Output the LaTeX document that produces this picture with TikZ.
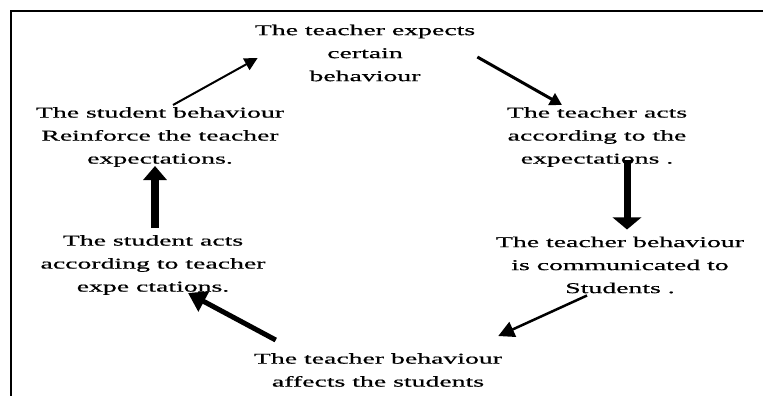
\documentclass[tikz,border=0pt]{standalone}
\usepackage{fontspec}
\setmainfont{Liberation Serif}[FakeStretch=1.85, FakeBold=0.6]
\usetikzlibrary{arrows.meta}

\tikzset{
	box/.style={align=center, inner sep=2pt, font=\fontsize{15}{23}\selectfont},
}

\begin{document}
\begin{tikzpicture}[x=1pt, y=-1pt]
	
	\useasboundingbox (0,0) rectangle (763,396);
	\draw[line width=1.3pt] (763,11) -- (11,11) -- (11,396);
	
	\node[box] (T) at (365,53) {The teacher expects\\certain\\behaviour};
	\node[box] (RA) at (597,137) {The teacher acts\\according to the\\expectations .};
	\node[box] (RB) at (620,265) {The teacher behaviour\\is communicated to\\Students .};
	\node[box] (B) at (378,370) {The teacher behaviour\\affects the students};
	\node[box] (LB) at (153,265) {The student acts\\according to teacher\\expe ctations.};
	\node[box] (LA) at (160,137) {The student behaviour\\Reinforce the teacher\\expectations.};
	
	\draw[line width=2pt, -{Triangle[length=13pt, width=13pt]}] ([xshift=13pt]LA.north) -- ([shift={(5pt,-5pt)}]T.west);
	\draw[line width=3pt, -{Triangle[length=12pt, width=13pt]}] ([yshift=-4pt]T.east) -- ([xshift=-35pt]RA.north);
	\draw[line width=7pt, -{Triangle[length=12pt, width=28pt]}] ([shift={(30pt,9pt)}]RA.south) -- ([shift={(30pt,5pt)}]RA.south |- RB.north);
	\draw[line width=2.5pt, -{Triangle[length=16pt, width=16pt]}] ([xshift=-33pt]RB.south) -- ([shift={(-6pt,15pt)}]B.north east);
	\draw[line width=5pt, -{Triangle[length=18pt, width=22pt]}] ([shift={(24pt,11pt)}]B.north west) -- ([shift={(35pt,4pt)}]LB.south);
	\draw[line width=8pt, -{Triangle[length=14pt, width=23pt]}] ([shift={(2pt,5pt)}]LB.north) -- ([shift={(2pt,3pt)}]LB.north |- LA.south);
	
\end{tikzpicture}
\end{document}
